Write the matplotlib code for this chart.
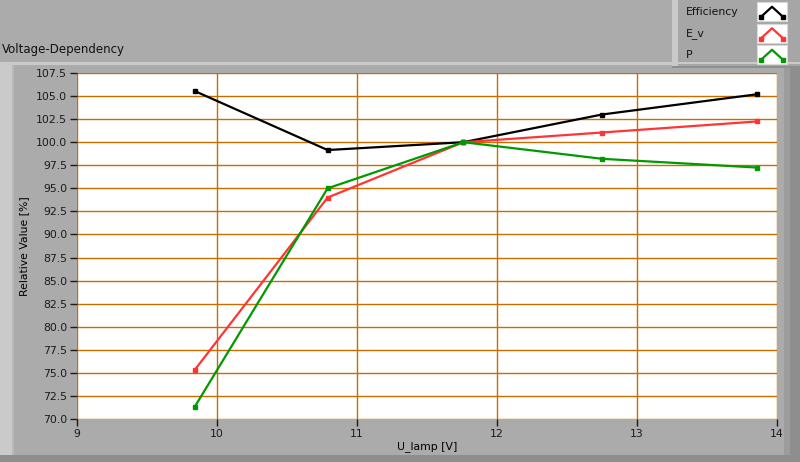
import matplotlib.pyplot as plt
from matplotlib.patches import Rectangle

u_lamp = [9.84, 10.79, 11.76, 12.75, 13.86]
efficiency = [105.55, 99.15, 100.0, 103.0, 105.2]
e_v = [75.3, 94.0, 100.0, 101.05, 102.25]
p = [71.3, 95.0, 100.0, 98.2, 97.25]

series = [("Efficiency", efficiency, "#000000"),
          ("E_v", e_v, "#ff3535"),
          ("P", p, "#009a00")]

yticks = [70.0 + 2.5 * i for i in range(16)]
xticks = [9, 10, 11, 12, 13, 14]

W, H = 800, 462
bg = "#ababab"
grid_c = "#c86e00"
plt.rcParams['font.family'] = ['DejaVu Sans']

fig = plt.figure(figsize=(8, 4.62), dpi=100, facecolor=bg)


def px(x0, y0, w, h):
    # pixel box (top-left origin) -> figure fraction
    return [x0 / W, 1 - (y0 + h) / H, w / W, h / H]


def rect(x0, y0, w, h, color):
    fig.patches.append(Rectangle((x0 / W, 1 - (y0 + h) / H), w / W, h / H,
                                 transform=fig.transFigure, color=color,
                                 zorder=-5, lw=0))


# panel frame decorations
rect(0, 62, 672, 3, "#cacaca")
rect(0, 65, 12, 397, "#cacaca")
rect(12, 65, 2, 397, "#b8b8b8")
rect(784, 65, 6, 397, "#9c9c9c")
rect(790, 65, 10, 397, "#8e8e8e")
rect(0, 455, 800, 7, "#8e8e8e")

# legend panel
rect(672, 0, 128, 68, "#a6a6a6")
rect(672, 0, 6, 66, "#cacaca")
rect(672, 62, 128, 2, "#cacaca")
rect(672, 66, 128, 2, "#8e8e8e")

fig.text(2 / W, 1 - 50 / H, "Voltage-Dependency", fontsize=8.5,
         va="center", ha="left", color="#111111")

ax = fig.add_axes(px(77, 73, 700, 346))
ax.set_facecolor("white")
for name, vals, col in series:
    ax.plot(u_lamp, vals, color=col, lw=1.6, marker="s", markersize=3.5,
            solid_joinstyle="miter")

ax.set_xlim(9, 14)
ax.set_ylim(70, 107.5)
ax.set_xticks(xticks)
ax.set_yticks(yticks)
ax.set_yticklabels([f"{v:.1f}" for v in yticks])
ax.grid(True, color=grid_c, lw=1)
ax.set_axisbelow(True)
for s in ax.spines.values():
    s.set_visible(False)
ax.tick_params(direction="out", length=5, width=1, colors="#1a1a1a",
               labelsize=7.8, pad=2)
ax.set_xlabel("U_lamp [V]", fontsize=7.8, labelpad=2)
ax.set_ylabel("Relative Value [%]", fontsize=7.8, labelpad=5)

# legend entries
for i, (name, vals, col) in enumerate(series):
    yc = 12 + i * 21.5
    fig.text(686 / W, 1 - yc / H, name, fontsize=7.8, va="center",
             ha="left", color="#111111")
    lax = fig.add_axes(px(757, yc - 10, 30, 19))
    lax.set_facecolor("white")
    lax.plot([0.12, 0.5, 0.88], [0.2, 0.75, 0.2], color=col, lw=1.6,
             marker="s", markersize=3, markevery=[0, 2])
    lax.set_xlim(0, 1)
    lax.set_ylim(0, 1)
    lax.set_xticks([])
    lax.set_yticks([])
    for s in lax.spines.values():
        s.set_color("#d8d8d8")

fig.savefig("out.png", dpi=100, facecolor=bg)
